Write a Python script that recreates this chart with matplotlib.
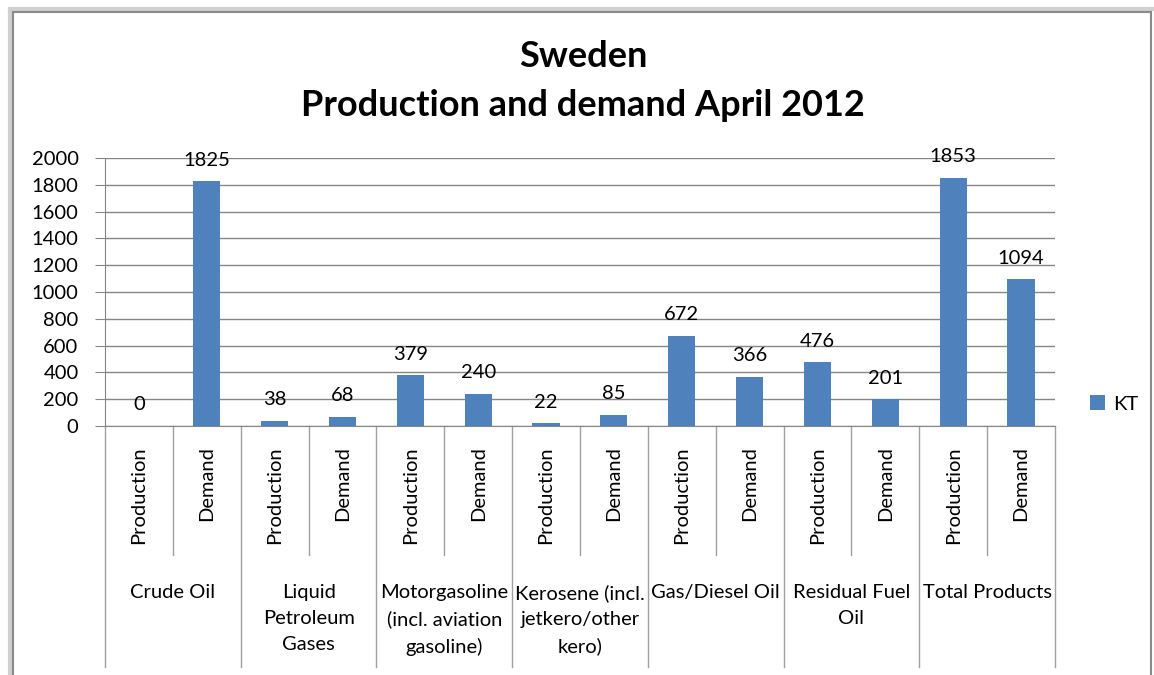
import numpy as np
import matplotlib.pyplot as plt
from matplotlib.lines import Line2D
import matplotlib.transforms as mtransforms

plt.rcParams['font.family'] = ['Lato', 'DejaVu Sans']

groups = ['Crude Oil', 'Liquid\nPetroleum\nGases', 'Motorgasoline\n(incl. aviation\ngasoline)',
          'Kerosene (incl.\njetkero/other\nkero)', 'Gas/Diesel Oil', 'Residual Fuel\nOil', 'Total Products']
kinds = ['Production', 'Demand']
production = [0, 38, 379, 22, 672, 476, 1853]
demand = [1825, 68, 240, 85, 366, 201, 1094]

values = []
for p, d in zip(production, demand):
    values += [p, d]
labels = kinds * len(groups)

W, H = 1154, 675
FS = 14.5
fig = plt.figure(figsize=(W / 100, H / 100), dpi=100)
fig.patch.set_facecolor('white')

# window-like frame around the chart
def fline(x0, y0, x1, y1, **kw):
    fig.add_artist(Line2D([x0 / W, x1 / W], [1 - y0 / H, 1 - y1 / H], transform=fig.transFigure, **kw))

fline(9.5, 8.5, 1152, 8.5, color='#d0d0d0', lw=3)
fline(9.5, 8.5, 9.5, 680, color='#d0d0d0', lw=3)
fline(13, 11.5, 1151, 11.5, color='#8a8a8a', lw=1.5)
fline(13, 11.5, 13, 680, color='#8a8a8a', lw=1.5)
fline(1151, 11.5, 1151, 680, color='#8a8a8a', lw=1.5)

left, right, top, bottom = 105, 1055, 158, 426
ax = fig.add_axes([left / W, 1 - bottom / H, (right - left) / W, (bottom - top) / H])

x = np.arange(len(values))
bars = ax.bar(x, values, width=0.4, color='#4f81bd', label='KT', zorder=3)
for xi, v in zip(x, values):
    ax.annotate(str(v), (xi, v), xytext=(0, 9), textcoords='offset points',
                ha='center', va='bottom', fontsize=FS)

ax.set_xlim(-0.5, len(values) - 0.5)
ax.set_ylim(0, 2000)
ax.set_yticks(np.arange(0, 2001, 200))
ax.yaxis.grid(True, color='#868686', lw=1, zorder=0)
ax.tick_params(axis='y', labelsize=FS, length=7, color='#868686', pad=12)
ax.set_xticks([])
for s in ['top', 'right']:
    ax.spines[s].set_visible(False)
ax.spines['left'].set_color('#868686')
ax.spines['bottom'].set_color('#868686')

# two-level category axis
trans = mtransforms.blended_transform_factory(ax.transData, ax.transAxes)
h = bottom - top
y_mid = -(555 - bottom) / h
y_low = -(667 - bottom) / h
for i in range(len(groups) + 1):
    ax.plot([2 * i - 0.5] * 2, [0, y_low], transform=trans, color='#a0a0a0', lw=1, clip_on=False)
for i in range(len(groups)):
    ax.plot([2 * i + 0.5] * 2, [0, y_mid], transform=trans, color='#a0a0a0', lw=1, clip_on=False)
    ax.text(2 * i + 0.5, -(584 - bottom) / h, groups[i], transform=trans, ha='center', va='top',
            fontsize=FS, linespacing=1.63)
for xi, lab in zip(x, labels):
    ax.text(xi, -(446 - bottom) / h, lab, transform=trans, rotation=90, ha='center', va='top',
            fontsize=FS)

fig.legend(handles=[bars], labels=['KT'], loc='center left', bbox_to_anchor=(1090 / W, 1 - 404 / H),
           frameon=False, fontsize=FS, handlelength=0.75, handleheight=0.75, handletextpad=0.4,
           borderpad=0, borderaxespad=0)

fig.text(583 / W, 1 - 67 / H, 'Sweden', ha='center', va='baseline', fontsize=26, fontweight='bold')
fig.text(583 / W, 1 - 116 / H, 'Production and demand April 2012', ha='center', va='baseline',
         fontsize=26, fontweight='bold')

fig.savefig('out.png', dpi=100)
